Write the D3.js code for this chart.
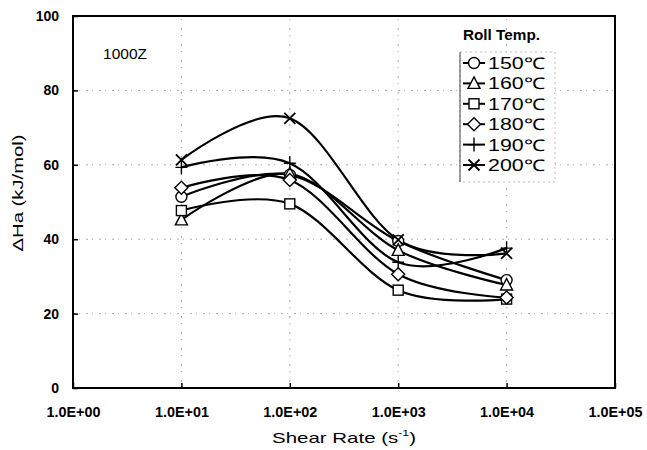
<!DOCTYPE html>
<html><head><meta charset="utf-8">
<script src="https://cdn.jsdelivr.net/npm/d3@7"></script>
<style>body{margin:0;background:#fff}svg{display:block}</style>
</head><body>
<script>
const shearRates = [10, 100, 1000, 10000];
const seriesNames = ["150℃", "160℃", "170℃", "180℃", "190℃", "200℃"];
const markers = ["circle", "triangle", "square", "diamond", "plus", "cross"];
const v150 = [51.4, 57.3, 39.5, 29.0];
const v160 = [45.2, 57.6, 37.0, 27.7];
const v170 = [47.7, 49.5, 26.3, 23.9];
const v180 = [53.8, 55.9, 30.6, 24.3];
const v190 = [59.3, 60.4, 33.8, 37.6];
const v200 = [61.3, 72.5, 39.8, 36.2];
const seriesValues = [v150, v160, v170, v180, v190, v200];
const xTicks = [1, 10, 100, 1000, 10000, 100000];
const xTickLabels = ["1.0E+00", "1.0E+01", "1.0E+02", "1.0E+03", "1.0E+04", "1.0E+05"];
const yTicks = [0, 20, 40, 60, 80, 100];

const W = 647, H = 450;
const m = {l: 73, r: 32, t: 16, b: 62};
const svg = d3.select("body").append("svg").attr("width", W).attr("height", H);
const x = d3.scaleLog().domain([1, 100000]).range([m.l, W - m.r]);
const y = d3.scaleLinear().domain([0, 100]).range([H - m.b, m.t]);
const font = "'Liberation Sans', Arial, sans-serif";

// grid
const g = svg.append("g");
g.selectAll(".hg").data(yTicks.slice(1, 5)).join("line")
  .attr("x1", x(1)).attr("x2", x(100000)).attr("y1", d => y(d)).attr("y2", d => y(d))
  .attr("stroke", "#aaa").attr("stroke-width", 1).attr("stroke-dasharray", "2,4,1,6");
g.selectAll(".vg").data(xTicks.slice(1, 5)).join("line")
  .attr("x1", d => x(d)).attr("x2", d => x(d)).attr("y1", y(0)).attr("y2", y(100))
  .attr("stroke", "#aaa").attr("stroke-width", 1).attr("stroke-dasharray", "1,5,2,8");

// axes (ticks inward)
const xa = svg.append("g").attr("transform", `translate(0,${y(0)})`)
  .call(d3.axisBottom(x).tickValues(xTicks).tickFormat((d, i) => xTickLabels[i]).tickSizeInner(-5).tickSizeOuter(0).tickPadding(19));
xa.select(".domain").remove();
xa.selectAll("line").attr("stroke", "#000").attr("stroke-width", 1.5);
xa.selectAll("text").attr("font-family", font).attr("font-size", 14).attr("font-weight", "bold").attr("fill", "#000")
  .attr("textLength", 54).attr("lengthAdjust", "spacingAndGlyphs");
const ya = svg.append("g").attr("transform", `translate(${x(1)},0)`)
  .call(d3.axisLeft(y).tickValues(yTicks).tickSizeInner(-5).tickSizeOuter(0).tickPadding(14));
ya.select(".domain").remove();
ya.selectAll("line").attr("stroke", "#000").attr("stroke-width", 1.5);
ya.selectAll("text").attr("font-family", font).attr("font-size", 14).attr("font-weight", "bold").attr("fill", "#000");

svg.append("rect").attr("x", x(1)).attr("y", y(100)).attr("width", x(100000) - x(1)).attr("height", y(0) - y(100))
  .attr("fill", "none").attr("stroke", "#000").attr("stroke-width", 2);

// lines
const line = d3.line().x((d, i) => x(shearRates[i])).y(d => y(d)).curve(d3.curveCardinal.tension(0));
svg.append("g").selectAll("path").data(seriesValues).join("path")
  .attr("d", d => line(d)).attr("fill", "none").attr("stroke", "#000").attr("stroke-width", 2.2);

function drawMarker(sel, type, cx, cy) {
  const s = "#000", sw = 1.4;
  if (type === "circle") sel.append("circle").attr("cx", cx).attr("cy", cy).attr("r", 5.5).attr("fill", "#fff").attr("stroke", s).attr("stroke-width", sw);
  else if (type === "square") sel.append("rect").attr("x", cx - 5).attr("y", cy - 5).attr("width", 10).attr("height", 10).attr("fill", "#fff").attr("stroke", s).attr("stroke-width", sw);
  else if (type === "triangle") sel.append("path").attr("d", `M${cx},${cy - 6.5}L${cx + 6},${cy + 5}L${cx - 6},${cy + 5}Z`).attr("fill", "#fff").attr("stroke", s).attr("stroke-width", sw);
  else if (type === "diamond") sel.append("path").attr("d", `M${cx},${cy - 6.5}L${cx + 6.5},${cy}L${cx},${cy + 6.5}L${cx - 6.5},${cy}Z`).attr("fill", "#fff").attr("stroke", s).attr("stroke-width", sw);
  else if (type === "plus") sel.append("path").attr("d", `M${cx - 6},${cy}H${cx + 6}M${cx},${cy - 7}V${cy + 7}`).attr("stroke", s).attr("stroke-width", sw);
  else if (type === "cross") sel.append("path").attr("d", `M${cx - 5.5},${cy - 5.5}L${cx + 5.5},${cy + 5.5}M${cx + 5.5},${cy - 5.5}L${cx - 5.5},${cy + 5.5}`).attr("stroke", s).attr("stroke-width", 1.8);
}
const mg = svg.append("g");
seriesValues.forEach((vals, si) => {
  vals.forEach((v, i) => drawMarker(mg, markers[si], x(shearRates[i]), y(v)));
});

// legend
const lg = svg.append("g");
lg.append("rect").attr("x", 460).attr("y", 52).attr("width", 95).attr("height", 130).attr("fill", "#fff")
  .attr("stroke", "#bbb").attr("stroke-width", 1).attr("stroke-dasharray", "2,3");
lg.append("line").attr("x1", 460).attr("x2", 460).attr("y1", 52).attr("y2", 182).attr("stroke", "#444").attr("stroke-width", 1);
lg.append("text").attr("x", 463).attr("y", 40).text("Roll Temp.").attr("font-family", font).attr("font-size", 14).attr("font-weight", "bold")
  .attr("textLength", 77).attr("lengthAdjust", "spacingAndGlyphs");
seriesNames.forEach((nm, i) => {
  const ly = 63 + i * 20.4;
  lg.append("line").attr("x1", 463).attr("x2", 485).attr("y1", ly).attr("y2", ly).attr("stroke", "#000").attr("stroke-width", 2);
  drawMarker(lg, markers[i], 474, ly);
  lg.append("text").attr("x", 488).attr("y", ly + 6).text(nm).attr("font-family", font).attr("font-size", 16)
    .attr("textLength", 57).attr("lengthAdjust", "spacingAndGlyphs");
});

svg.append("text").attr("x", 103).attr("y", 59).text("1000Z").attr("font-family", font).attr("font-size", 15)
  .attr("textLength", 44).attr("lengthAdjust", "spacingAndGlyphs");

// axis titles
const xt = svg.append("text").attr("x", (x(1) + x(100000)) / 2).attr("y", 443).attr("text-anchor", "middle")
  .attr("font-family", font).attr("font-size", 15).attr("textLength", 144).attr("lengthAdjust", "spacingAndGlyphs");
xt.append("tspan").text("Shear Rate (s");
xt.append("tspan").text("-1").attr("font-size", 9).attr("dy", -7);
xt.append("tspan").text(")").attr("dy", 7);
svg.append("text").attr("transform", `translate(23,193) rotate(-90)`).attr("text-anchor", "middle")
  .attr("font-family", font).attr("font-size", 15).attr("textLength", 117).attr("lengthAdjust", "spacingAndGlyphs").text("ΔHa (kJ/mol)");
</script>
</body></html>
